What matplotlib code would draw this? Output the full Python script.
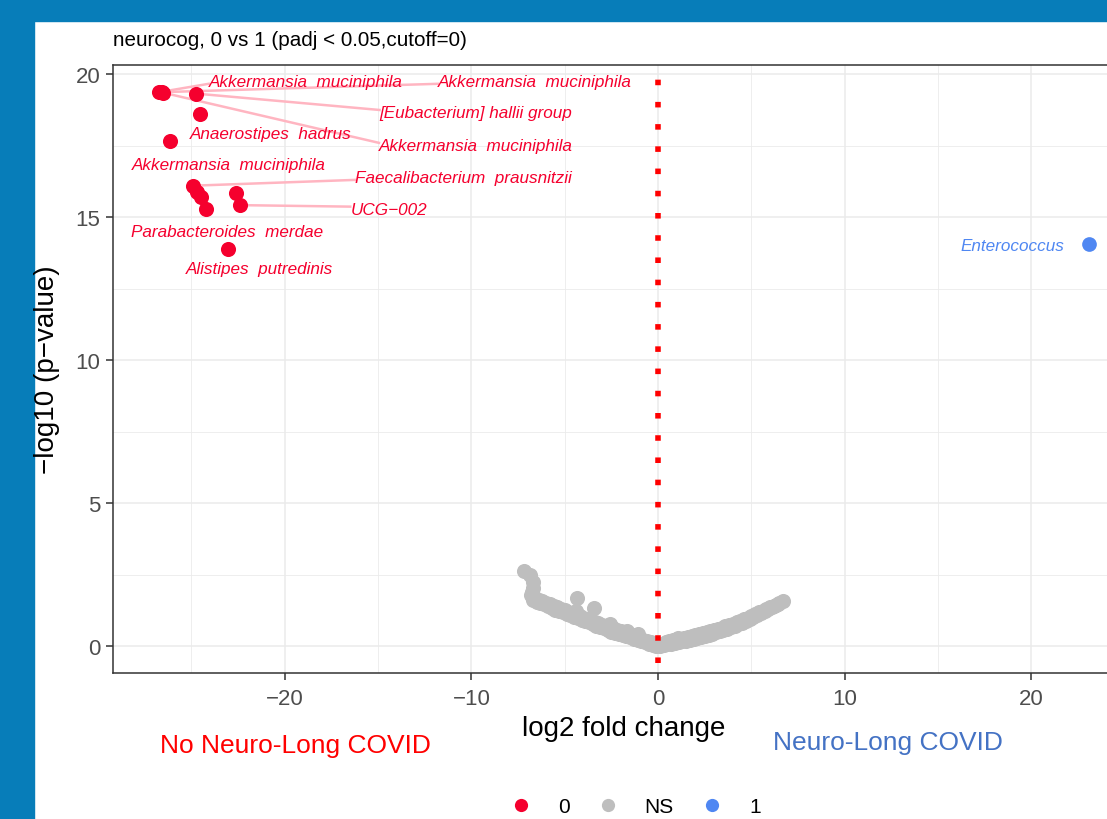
import matplotlib
matplotlib.use("Agg")
import matplotlib.pyplot as plt
from matplotlib.patches import Rectangle
from matplotlib.lines import Line2D

plt.rcParams['font.family'] = ['Liberation Sans', 'DejaVu Sans']

# ---------------- data ----------------
title = "neurocog, 0 vs 1 (padj < 0.05,cutoff=0)"
x_label = "log2 fold change"
y_label = "\u2212log10 (p\u2212value)"
group_labels = ["No Neuro-Long COVID", "Neuro-Long COVID"]
legend_labels = ["0", "NS", "1"]
x_ticks = [-20, -10, 0, 10, 20]
y_ticks = [0, 5, 10, 15, 20]

# significant, group 0 (red)
sig0_x = [-26.72, -26.60, -26.50, -24.75, -24.55, -26.15,
          -24.90, -24.72, -24.50, -24.22, -22.60, -22.42, -23.05]
sig0_y = [19.38, 19.38, 19.36, 19.33, 18.60, 17.66,
          16.11, 15.90, 15.72, 15.28, 15.87, 15.43, 13.90]
sig0_labels = ["Akkermansia  muciniphila", "Akkermansia  muciniphila",
               "Akkermansia  muciniphila", "[Eubacterium] hallii group", "",
               "Anaerostipes  hadrus", "Faecalibacterium  prausnitzii",
               "Akkermansia  muciniphila", "", "Parabacteroides  merdae", "",
               "UCG\u2212002", "Alistipes  putredinis"]

# significant, group 1 (blue)
sig1_x = [23.10]
sig1_y = [14.07]
sig1_labels = ["Enterococcus"]

# not significant (grey): outliers, left band (two rows), right band (two rows)
ns_x = [-7.18, -6.88, -6.72, -6.70, -6.75, -6.80, -4.33, -3.41,
        -4.40, -2.55, -1.65, -1.10,
        -6.7, -6.5, -6.3, -6.1, -5.9, -5.7, -5.5, -5.3, -5.1, -4.9, -4.7, -4.5,
        -4.3, -4.1, -3.9, -3.7, -3.5, -3.3, -3.1, -2.9, -2.7, -2.5, -2.3, -2.1,
        -1.9, -1.7, -1.5, -1.3, -1.1, -0.9, -0.7, -0.5, -0.3, -0.1,
        -6.6, -6.4, -6.2, -6.0, -5.8, -5.6, -5.4, -5.2, -5.0, -4.8, -4.6, -4.4,
        -4.2, -4.0, -3.8, -3.6, -3.4, -3.2, -3.0, -2.8, -2.6, -2.4, -2.2, -2.0,
        -1.8, -1.6, -1.4, -1.2, -1.0, -0.8, -0.6, -0.4, -0.2, 0.0,
        0.1, 0.3, 0.5, 0.7, 0.9, 1.1, 1.3, 1.5, 1.7, 1.9, 2.1, 2.3, 2.5, 2.7,
        2.9, 3.1, 3.3, 3.5, 3.7, 3.9, 4.1, 4.3, 4.5, 4.7, 4.9, 5.1, 5.3, 5.5,
        5.7, 5.9, 6.1, 6.3, 6.5,
        0.2, 0.4, 0.6, 0.8, 1.0, 1.05, 1.2, 1.4, 1.6, 1.8, 2.0, 2.2, 2.4, 2.6,
        2.8, 3.0, 3.2, 3.4, 3.6, 3.8, 4.0, 4.2, 4.4, 4.6, 4.8, 5.0, 5.2, 5.4,
        5.6, 5.8, 6.0, 6.2, 6.4, 6.67]
ns_y = [2.64, 2.49, 2.25, 2.05, 1.90, 1.78, 1.70, 1.33,
        1.25, 0.80, 0.55, 0.42,
        1.62, 1.57, 1.52, 1.47, 1.41, 1.35, 1.29, 1.24, 1.19, 1.14, 1.09, 1.04,
        0.99, 0.94, 0.89, 0.84, 0.79, 0.73, 0.68, 0.63, 0.57, 0.52, 0.48, 0.44,
        0.40, 0.36, 0.32, 0.27, 0.23, 0.19, 0.14, 0.10, 0.06, 0.02,
        1.70, 1.64, 1.58, 1.53, 1.48, 1.43, 1.37, 1.31, 1.26, 1.21, 1.17, 1.12,
        1.06, 1.01, 0.96, 0.90, 0.85, 0.81, 0.76, 0.71, 0.68, 0.63, 0.58, 0.54,
        0.49, 0.44, 0.39, 0.34, 0.29, 0.24, 0.19, 0.14, 0.08, 0.04,
        0.01, 0.04, 0.07, 0.10, 0.13, 0.16, 0.18, 0.20, 0.23, 0.26, 0.29, 0.33,
        0.37, 0.41, 0.45, 0.49, 0.53, 0.57, 0.62, 0.67, 0.72, 0.77, 0.83, 0.89,
        0.95, 1.02, 1.09, 1.16, 1.23, 1.30, 1.37, 1.44, 1.52,
        0.10, 0.14, 0.18, 0.22, 0.26, 0.31, 0.27, 0.30, 0.33, 0.36, 0.39, 0.43,
        0.46, 0.50, 0.54, 0.58, 0.62, 0.66, 0.71, 0.75, 0.80, 0.84, 0.89, 0.95,
        1.01, 1.07, 1.13, 1.19, 1.25, 1.31, 1.37, 1.43, 1.50, 1.58]

# ---------------- layout (label placement) ----------------
sig0_label_pos = [(-18.88, 19.76), (-6.60, 19.76), (-9.76, 17.52), (-9.76, 18.67), None,
                  (-20.75, 17.94), (-10.43, 16.40), (-23.02, 16.86), None,
                  (-23.10, 14.52), None, (-14.44, 15.29), (-21.36, 13.23)]
sig0_segment = [True, True, True, True, False, False, True, False, False,
                False, False, True, False]
sig1_label_pos = [(18.98, 14.03)]

RED = "#F5002E"
GREY = "#BEBEBE"
BLUE = "#4F87F2"
SEG = "#FFB5C1"

W, H = 1107, 820
fig = plt.figure(figsize=(W / 100, H / 100), dpi=100)
fig.patches.append(Rectangle((0, 1 - 22 / H), 1, 22 / H, transform=fig.transFigure,
                             color="#077DB9", zorder=0))
fig.patches.append(Rectangle((0, 0), 34 / W, 1, transform=fig.transFigure,
                             color="#077DB9", zorder=0))

ax = fig.add_axes([113 / W, 146 / H, (1136 - 113) / W, (674 - 66) / H])
ax.set_xlim(-29.2, 25.6)
ax.set_ylim(-0.93, 20.33)

ax.set_xticks(x_ticks)
ax.set_yticks(y_ticks)
ax.set_xticks([-25, -15, -5, 5, 15, 25], minor=True)
ax.set_yticks([2.5, 7.5, 12.5, 17.5], minor=True)
ax.grid(which='major', color="#EBEBEB", lw=1.1, zorder=0)
ax.grid(which='minor', color="#EBEBEB", lw=0.6, zorder=0)
ax.set_axisbelow(True)
ax.tick_params(which='minor', length=0)
ax.tick_params(which='major', length=5, width=1.1, color="#333333",
               labelsize=16, labelcolor="#4D4D4D")
ax.tick_params(axis='x', pad=6)
ax.tick_params(axis='y', pad=4)
for s in ax.spines.values():
    s.set_color("#333333")
    s.set_linewidth(1.1)

ax.scatter(ns_x, ns_y, s=118, c=GREY, linewidths=0, zorder=3)
ax.scatter(sig0_x, sig0_y, s=118, c=RED, linewidths=0, zorder=4)
ax.scatter(sig1_x, sig1_y, s=112, c=BLUE, linewidths=0, zorder=4)

ax.axvline(0, color="#FF0000", lw=4, linestyle=(2.2, (1, 3)), zorder=5)

texts = []
for px, py, lab, pos, seg in zip(sig0_x, sig0_y, sig0_labels, sig0_label_pos, sig0_segment):
    if pos is None:
        continue
    t = ax.text(pos[0], pos[1], lab, color=RED, fontsize=12.3, style='italic',
                ha='center', va='center', zorder=6)
    texts.append((t, px, py, seg))
for px, py, lab, pos in zip(sig1_x, sig1_y, sig1_labels, sig1_label_pos):
    ax.text(pos[0], pos[1], lab, color=BLUE, fontsize=12.3, style='italic',
            ha='center', va='center', zorder=6)

fig.canvas.draw()
r = fig.canvas.get_renderer()
inv = ax.transData.inverted()
for t, px, py, seg in texts:
    if not seg:
        continue
    bb = t.get_window_extent(r)
    ppx, ppy = ax.transData.transform((px, py))
    ex = min(max(ppx, bb.x0), bb.x1)
    ey = min(max(ppy, bb.y0 + 5), bb.y1 - 5)
    (dx0, dy0), (dx1, dy1) = inv.transform([(ppx, ppy), (ex, ey)])
    ax.plot([dx0, dx1], [dy0, dy1], color=SEG, lw=1.8, zorder=3.5)

fig.text(113 / W, 1 - 41 / H, title, fontsize=14.9, ha='left', va='center', color='black')

fig.text(624 / W, 1 - 729 / H, x_label, fontsize=20, ha='center', va='center')
fig.text(47 / W, 1 - 370 / H, y_label, fontsize=20, ha='center', va='center', rotation=90)

fig.text(295 / W, 1 - 746 / H, group_labels[0], fontsize=19, ha='center', va='center',
         color="#FF0000")
fig.text(888 / W, 1 - 743 / H, group_labels[1], fontsize=19, ha='center', va='center',
         color="#4472C4")

handles = [Line2D([], [], ls='none', marker='o', ms=9.5, mfc=c, mec='none')
           for c in (RED, GREY, BLUE)]
fig.legend(handles, legend_labels, loc='center', bbox_to_anchor=(0.574, 1 - 808 / H),
           ncol=3, frameon=False, fontsize=15, handlelength=1.0, handletextpad=1.28,
           columnspacing=1.33, borderpad=0)

fig.savefig("out.png", dpi=100)
